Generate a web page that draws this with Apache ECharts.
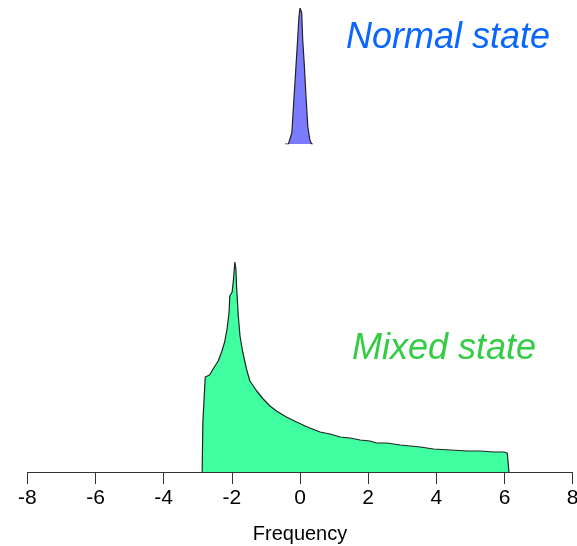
<!DOCTYPE html>
<html>
<head>
<meta charset="utf-8">
<script src="https://cdn.jsdelivr.net/npm/echarts@6/dist/echarts.min.js"></script>
<style>html,body{margin:0;padding:0;background:#fff}#c{width:577px;height:546px}</style>
</head>
<body>
<div id="c"></div>
<script>
const xTicks = [-8, -6, -4, -2, 0, 2, 4, 6, 8];
const normalX = [-0.44, -0.34, -0.24, -0.18, -0.12, -0.07, -0.03, 0, 0.05, 0.08, 0.13, 0.17, 0.23, 0.29, 0.34, 0.38];
const normalY = [0, 0, 11, 44, 77, 104, 127, 136, 131, 104, 77, 51, 17, 4, 0, 0];
const mixedX = [-2.87, -2.85, -2.78, -2.65, -2.55, -2.40, -2.30, -2.21, -2.14, -2.08, -2.06, -1.99, -1.95, -1.91, -1.88, -1.86, -1.81, -1.76, -1.68, -1.57, -1.47, -1.27, -1.08, -0.88, -0.69, -0.40, -0.10, 0.15, 0.29, 0.59, 0.88, 1.18, 1.47, 1.76, 2.05, 2.25, 2.55, 2.94, 3.24, 3.53, 3.92, 4.41, 4.90, 5.29, 5.69, 5.98, 6.08, 6.13];
const mixedY = [0, 50, 95, 97, 103, 111, 120, 130, 143, 160, 176, 180, 193, 210, 203, 185, 156, 136, 120, 103, 91, 81, 73, 66, 61, 55, 50, 46, 44, 40, 38, 35, 34, 32, 31, 29, 29, 27, 26, 25, 23, 22, 21, 21, 20, 20, 19, 0];
const labels = { normal: 'Normal state', mixed: 'Mixed state', axis: 'Frequency' };

const font = '"Liberation Sans", Arial, sans-serif';
const chart = echarts.init(document.getElementById('c'), null, { renderer: 'canvas' });
chart.setOption({
  animation: false,
  backgroundColor: '#fff',
  grid: [
    { left: 27.3, right: 4.3, top: 8, bottom: 402, containLabel: false, outerBoundsMode: 'none' },
    { left: 27.3, right: 4.3, top: 252, bottom: 74, containLabel: false, outerBoundsMode: 'none' }
  ],
  xAxis: [
    { gridIndex: 0, type: 'value', min: -8, max: 8, interval: 2, show: false },
    { gridIndex: 1, type: 'value', min: xTicks[0], max: xTicks[xTicks.length - 1], interval: 2,
      name: labels.axis, nameLocation: 'middle', nameGap: 52,
      nameTextStyle: { fontFamily: font, fontSize: 20, color: '#000' },
      axisLine: { show: true, lineStyle: { color: '#333', width: 1 } },
      axisTick: { show: true, length: 12, lineStyle: { color: '#333', width: 1 } },
      axisLabel: { fontFamily: font, fontSize: 21, color: '#000', margin: 16 },
      splitLine: { show: false } }
  ],
  yAxis: [
    { gridIndex: 0, type: 'value', min: 0, max: 136, show: false },
    { gridIndex: 1, type: 'value', min: 0, max: 220, show: false }
  ],
  series: [
    { type: 'line', xAxisIndex: 0, yAxisIndex: 0, symbol: 'none',
      data: normalX.map((x, i) => [x, normalY[i]]),
      lineStyle: { color: '#222', width: 1.2 },
      areaStyle: { color: '#7b7bff', opacity: 1 } },
    { type: 'line', xAxisIndex: 1, yAxisIndex: 1, symbol: 'none',
      data: mixedX.map((x, i) => [x, mixedY[i]]),
      lineStyle: { color: '#222', width: 1.2 },
      areaStyle: { color: '#40ffa0', opacity: 1 } }
  ],
  graphic: [
    { type: 'text', left: 346, top: 20, style: { text: labels.normal, fontFamily: font, fontStyle: 'italic', fontSize: 36, fill: '#0a66ff' } },
    { type: 'text', left: 352, top: 331, style: { text: labels.mixed, fontFamily: font, fontStyle: 'italic', fontSize: 36, fill: '#33cc44' } }
  ]
});
</script>
</body>
</html>
